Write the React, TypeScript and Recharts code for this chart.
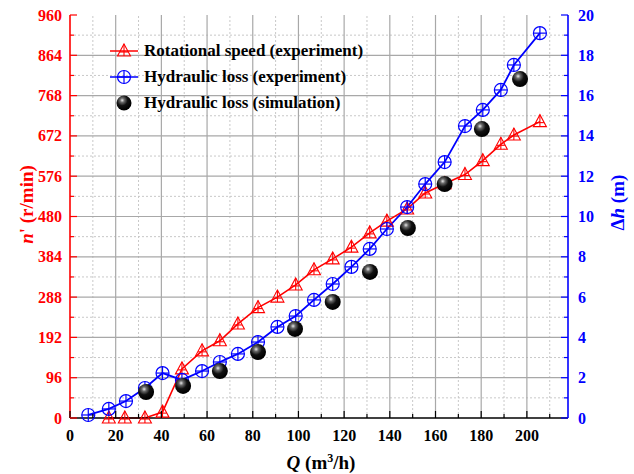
import React from 'react';
import {
  ComposedChart,
  Line,
  XAxis,
  YAxis,
  ReferenceLine,
  Legend,
} from 'recharts';

// rotational speed n' (r/min), experiment
const qSpeed = [17, 24, 32.8, 40.5, 49, 57.8, 65.6, 73.5, 82.3, 90.8, 98.8, 106.8, 115, 123.2, 131.2, 138.7, 147.6, 155.5, 164, 172.9, 180.7, 188.6, 194.3, 205.7];
const speedExp = [0, 0, 0, 14, 117, 160, 184, 224, 263, 288, 317, 353, 379, 407, 441, 469, 498, 536, 558, 580, 613, 652, 674, 706];

// hydraulic loss dh (m), experiment
const qLoss = [8, 17, 24.5, 32.8, 40.5, 49, 57.8, 65.6, 73.5, 82.3, 90.8, 98.8, 106.8, 115, 123.2, 131.2, 138.7, 147.6, 155.5, 164, 172.9, 180.7, 188.6, 194.3, 205.7];
const lossExp = [0.15, 0.45, 0.84, 1.49, 2.23, 1.89, 2.33, 2.78, 3.18, 3.77, 4.52, 5.06, 5.86, 6.65, 7.5, 8.39, 9.38, 10.47, 11.61, 12.7, 14.49, 15.29, 16.28, 17.52, 19.1];

// hydraulic loss dh (m), simulation
const qSim = [33.3, 49.5, 65.6, 82.3, 98.5, 115, 131.3, 147.9, 164, 180.3, 197];
const lossSim = [1.29, 1.59, 2.33, 3.27, 4.42, 5.76, 7.25, 9.43, 11.61, 14.34, 16.82];

const xMajor = [0, 20, 40, 60, 80, 100, 120, 140, 160, 180, 200];
const xMinor = [10, 30, 50, 70, 90, 110, 130, 150, 170, 190, 210];
const nMajor = [0, 96, 192, 288, 384, 480, 576, 672, 768, 864, 960];
const nMinor = [48, 144, 240, 336, 432, 528, 624, 720, 816, 912];
const hMajor = [0, 2, 4, 6, 8, 10, 12, 14, 16, 18, 20];
const hMinor = [1, 3, 5, 7, 9, 11, 13, 15, 17, 19];

const RED = '#ff0000';
const BLUE = '#0000ff';
const FONT = "'Liberation Serif', 'Times New Roman', serif";

const speedData = qSpeed.map((q, i) => ({ q, n: speedExp[i] }));
const lossData = qLoss.map((q, i) => ({ q, h: lossExp[i] }));
const simData = qSim.map((q, i) => ({ q, h: lossSim[i] }));

const xTicks = [...xMajor, ...xMinor].sort((a, b) => a - b);
const nTicks = [...nMajor, ...nMinor].sort((a, b) => a - b);
const hTicks = [...hMajor, ...hMinor].sort((a, b) => a - b);

const TriMark = ({ cx, cy }: any) => (
  <g>
    <path d={`M${cx},${cy - 7} L${cx + 6.5},${cy + 5} L${cx - 6.5},${cy + 5} Z`} fill="none" stroke={RED} strokeWidth={1.1} />
    <line x1={cx} y1={cy - 7} x2={cx} y2={cy + 5} stroke={RED} strokeWidth={1.1} />
    <line x1={cx - 4} y1={cy + 1} x2={cx + 4} y2={cy + 1} stroke={RED} strokeWidth={1.1} />
  </g>
);

const CircMark = ({ cx, cy }: any) => (
  <g>
    <circle cx={cx} cy={cy} r={6.5} fill="none" stroke={BLUE} strokeWidth={1.2} />
    <line x1={cx - 6.5} y1={cy} x2={cx + 6.5} y2={cy} stroke={BLUE} strokeWidth={1.2} />
    <line x1={cx} y1={cy - 6.5} x2={cx} y2={cy + 6.5} stroke={BLUE} strokeWidth={1.2} />
  </g>
);

const Ball = ({ cx, cy, r = 8 }: any) => (
  <g>
    <defs>
      <radialGradient id="ballGrad" cx="38%" cy="32%" r="65%">
        <stop offset="0%" stopColor="#e8e8e8" />
        <stop offset="22%" stopColor="#6a6a6a" />
        <stop offset="55%" stopColor="#111" />
        <stop offset="100%" stopColor="#000" />
      </radialGradient>
    </defs>
    <circle cx={cx} cy={cy} r={r} fill="url(#ballGrad)" />
  </g>
);

const isIn = (arr: number[], v: number) => arr.indexOf(v) >= 0;

const LeftTick = ({ x, y, payload }: any) => {
  const major = isIn(nMajor, payload.value);
  return (
    <g>
      <line x1={x} y1={y} x2={x + (major ? 7 : 4)} y2={y} stroke={RED} strokeWidth={1.2} />
      {major && (
        <text x={x - 8} y={y} dy={5.5} textAnchor="end" fill={RED} fontSize={16} fontWeight="bold" fontFamily={FONT}>
          {payload.value}
        </text>
      )}
    </g>
  );
};

const RightTick = ({ x, y, payload }: any) => {
  const major = isIn(hMajor, payload.value);
  return (
    <g>
      <line x1={x} y1={y} x2={x - (major ? 7 : 4)} y2={y} stroke={BLUE} strokeWidth={1.2} />
      {major && (
        <text x={x + 10} y={y} dy={5.5} textAnchor="start" fill={BLUE} fontSize={16} fontWeight="bold" fontFamily={FONT}>
          {payload.value}
        </text>
      )}
    </g>
  );
};

const BottomTick = ({ x, y, payload }: any) => {
  const major = isIn(xMajor, payload.value);
  return (
    <g>
      <line x1={x} y1={y} x2={x} y2={y - (major ? 7 : 4)} stroke="#000" strokeWidth={1.2} />
      {major && (
        <text x={x} y={y + 23} textAnchor="middle" fill="#000" fontSize={16} fontWeight="bold" fontFamily={FONT}>
          {payload.value}
        </text>
      )}
    </g>
  );
};

const TopTick = ({ x, y, payload }: any) => {
  const major = isIn(xMajor, payload.value);
  return <line x1={x} y1={y} x2={x} y2={y + (major ? 7 : 4)} stroke="#000" strokeWidth={1.2} />;
};

const LeftTitle = ({ viewBox }: any) => {
  const cx = viewBox.x + 26;
  const cy = viewBox.y + viewBox.height / 2 - 12;
  return (
    <text x={cx} y={cy} transform={`rotate(-90, ${cx}, ${cy})`} textAnchor="middle" dominantBaseline="central" fill={RED} fontSize={19} fontWeight="bold" fontFamily={FONT}>
      <tspan fontStyle="italic">n</tspan>' (r/min)
    </text>
  );
};

const RightTitle = ({ viewBox }: any) => {
  const cx = viewBox.x + 49;
  const cy = viewBox.y + viewBox.height / 2 - 14;
  return (
    <text x={cx} y={cy} transform={`rotate(-90, ${cx}, ${cy})`} textAnchor="middle" dominantBaseline="central" fill={BLUE} fontSize={19} fontWeight="bold" fontFamily={FONT}>
      Δ<tspan fontStyle="italic">h</tspan> (m)
    </text>
  );
};

const BottomTitle = ({ viewBox }: any) => {
  const cx = viewBox.x + viewBox.width / 2 + 2;
  return (
    <text x={cx} y={viewBox.y + 51} textAnchor="middle" fill="#000" fontSize={19} fontWeight="bold" fontFamily={FONT}>
      <tspan fontStyle="italic">Q</tspan> (m<tspan dy={-7} fontSize={12}>3</tspan>
      <tspan dy={7}>/h)</tspan>
    </text>
  );
};

const legendRows = [
  { name: 'Rotational speed (experiment)', kind: 'tri' },
  { name: 'Hydraulic loss (experiment)', kind: 'circ' },
  { name: 'Hydraulic loss (simulation)', kind: 'ball' },
];

const renderLegend = () => (
  <div style={{ fontFamily: FONT, fontWeight: 'bold', fontSize: 17, color: '#000' }}>
    {legendRows.map(row => (
      <div key={row.name} style={{ display: 'flex', alignItems: 'center', height: 26 }}>
        <svg width={32} height={20} style={{ marginRight: 4 }}>
          {row.kind === 'tri' && (
            <g>
              <line x1={2} y1={10} x2={30} y2={10} stroke={RED} strokeWidth={1.5} />
              <TriMark cx={16} cy={10} />
            </g>
          )}
          {row.kind === 'circ' && (
            <g>
              <line x1={2} y1={10} x2={30} y2={10} stroke={BLUE} strokeWidth={1.5} />
              <CircMark cx={16} cy={10} />
            </g>
          )}
          {row.kind === 'ball' && <Ball cx={16} cy={10} r={7.5} />}
        </svg>
        <span>{row.name}</span>
      </div>
    ))}
  </div>
);

export default function App() {
  return (
    <div style={{ width: 634, height: 474, background: '#fff' }}>
      <style>{'body{margin:0}'}</style>
      <ComposedChart width={634} height={474} margin={{ top: 15, right: 0, bottom: 0, left: 0 }}>
        <XAxis
          xAxisId="b"
          type="number"
          dataKey="q"
          domain={[0, 218]}
          ticks={xTicks}
          interval={0}
          height={56}
          tickSize={0}
          tickMargin={0}
          tick={<BottomTick />}
          axisLine={{ stroke: '#000', strokeWidth: 1.6 }}
          label={<BottomTitle />}
          allowDataOverflow
        />
        <XAxis
          xAxisId="t"
          orientation="top"
          type="number"
          dataKey="q"
          domain={[0, 218]}
          ticks={xTicks}
          interval={0}
          height={0}
          tickSize={0}
          tickMargin={0}
          tick={<TopTick />}
          axisLine={{ stroke: '#000', strokeWidth: 1.6 }}
          allowDataOverflow
        />
        <YAxis
          yAxisId="n"
          type="number"
          domain={[0, 960]}
          ticks={nTicks}
          interval={0}
          width={70}
          tickSize={0}
          tickMargin={0}
          tick={<LeftTick />}
          axisLine={{ stroke: RED, strokeWidth: 1.6 }}
          label={<LeftTitle />}
        />
        <YAxis
          yAxisId="h"
          orientation="right"
          type="number"
          domain={[0, 20]}
          ticks={hTicks}
          interval={0}
          width={66}
          tickSize={0}
          tickMargin={0}
          tick={<RightTick />}
          axisLine={{ stroke: BLUE, strokeWidth: 1.6 }}
          label={<RightTitle />}
        />
        {xMinor.map(v => (
          <ReferenceLine key={'xm' + v} x={v} xAxisId="b" yAxisId="n" stroke="#c8c8c8" strokeDasharray="2 2" />
        ))}
        {nMinor.map(v => (
          <ReferenceLine key={'nm' + v} y={v} xAxisId="b" yAxisId="n" stroke="#c8c8c8" strokeDasharray="2 2" />
        ))}
        {xMajor.filter(v => v > 0).map(v => (
          <ReferenceLine key={'xM' + v} x={v} xAxisId="b" yAxisId="n" stroke="#a8a8a8" strokeWidth={1.2} />
        ))}
        {nMajor.filter(v => v > 0 && v < 960).map(v => (
          <ReferenceLine key={'nM' + v} y={v} xAxisId="b" yAxisId="n" stroke="#a8a8a8" strokeWidth={1.2} />
        ))}
        <Line
          data={speedData}
          xAxisId="b"
          yAxisId="n"
          dataKey="n"
          name="Rotational speed (experiment)"
          stroke={RED}
          strokeWidth={1.6}
          isAnimationActive={false}
          dot={(p: any) => <TriMark key={'t' + p.index} cx={p.cx} cy={p.cy} />}
        />
        <Line
          data={lossData}
          xAxisId="b"
          yAxisId="h"
          dataKey="h"
          name="Hydraulic loss (experiment)"
          stroke={BLUE}
          strokeWidth={1.8}
          isAnimationActive={false}
          dot={(p: any) => <CircMark key={'c' + p.index} cx={p.cx} cy={p.cy} />}
        />
        <Line
          data={simData}
          xAxisId="b"
          yAxisId="h"
          dataKey="h"
          name="Hydraulic loss (simulation)"
          stroke="none"
          isAnimationActive={false}
          dot={(p: any) => <Ball key={'b' + p.index} cx={p.cx} cy={p.cy} />}
        />
        <Legend
          layout="horizontal"
          verticalAlign="middle"
          align="center"
          content={renderLegend}
          wrapperStyle={{ position: 'absolute', left: 108, top: 38, width: 320, height: 80 }}
        />
      </ComposedChart>
    </div>
  );
}
